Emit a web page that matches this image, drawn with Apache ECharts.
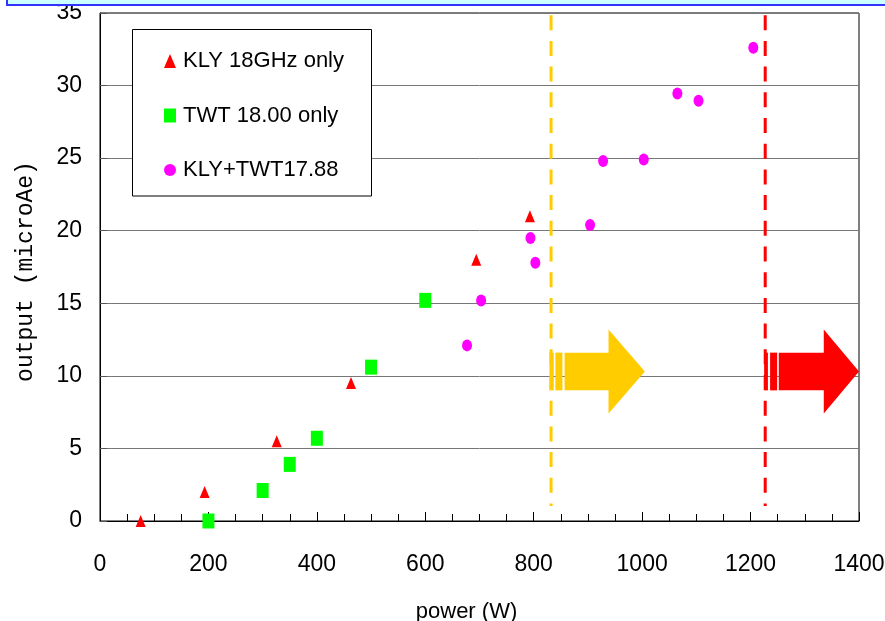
<!DOCTYPE html>
<html>
<head>
<meta charset="utf-8">
<script src="https://cdn.jsdelivr.net/npm/echarts@6/dist/echarts.min.js"></script>
<style>html,body{margin:0;padding:0;background:#fff}#c{width:885px;height:621px}</style>
</head>
<body>
<div id="c"></div>
<script>
// ---- data ----
const klyName = 'KLY 18GHz only';
const twtName = 'TWT 18.00 only';
const mixName = 'KLY+TWT17.88';
const klyPower = [75, 193, 326, 463, 694, 793];
const klyOutput = [0, 2, 5.5, 9.5, 18, 21];
const twtPower = [200, 300, 350, 400, 500, 600];
const twtOutput = [0, 2.1, 3.9, 5.7, 10.6, 15.2];
const mixPower = [677, 703, 794, 803, 904, 928, 1003, 1065, 1104, 1205];
const mixOutput = [12.1, 15.2, 19.5, 17.8, 20.4, 24.8, 24.9, 29.45, 28.95, 32.6];
// threshold lines (power) and their vertical extent (output)
const thresholdPower = [832, 1227];
const thresholdSpan = [1.03, 34.85];
// arrows: stripe edges + body start, head base, tip (power); widths (output)
const arrowStripes = [[829, 837, 840, 853, 857], [1225, 1232, 1236, 1249, 1252]];
const arrowHeadBase = [938, 1335];
const arrowTip = [1005, 1400];
const arrowBody = [9.0, 11.6];
const arrowHead = [7.4, 13.2];
const arrowTipY = 10.3;
const xTicks = [0, 200, 400, 600, 800, 1000, 1200, 1400];
const yTicks = [0, 5, 10, 15, 20, 25, 30, 35];

// ---- styles ----
const sans = "'Liberation Sans', Arial, sans-serif";
const yellow = '#FFCC00', red = '#FF0000';
const arrowColors = [yellow, red];

const chart = echarts.init(document.getElementById('c'), null, {renderer: 'canvas'});
chart.setOption({
  animation: false,
  backgroundColor: '#fff',
  grid: {left: 100, right: 26, top: 13, bottom: 100, outerBoundsMode: 'none', containLabel: false,
    show: true, borderColor: '#000', borderWidth: 1, backgroundColor: '#fff'},
  xAxis: {
    type: 'value', min: xTicks[0], max: xTicks[xTicks.length - 1], interval: 200,
    name: 'power (W)', nameLocation: 'middle', nameGap: 80,
    nameTextStyle: {fontFamily: sans, fontSize: 22, color: '#000', padding: [0, 26, 0, 0]},
    axisLine: {lineStyle: {color: '#000', width: 1}},
    axisTick: {inside: true, length: 9, lineStyle: {color: '#000'}},
    minorTick: {show: true, splitNumber: 4, length: 7, lineStyle: {color: '#000'}},
    splitLine: {show: false},
    axisLabel: {fontFamily: sans, fontSize: 23, color: '#000', margin: 32, formatter: v => String(v)}
  },
  yAxis: {
    type: 'value', min: yTicks[0], max: yTicks[yTicks.length - 1], interval: 5,
    name: 'output (microAe)', nameLocation: 'middle', nameGap: 63,
    nameTextStyle: {fontFamily: "'Liberation Mono', monospace", fontSize: 23, color: '#000', padding: [0, 9, 0, 0]},
    axisLine: {lineStyle: {color: '#000', width: 1}},
    axisTick: {inside: true, length: 7, lineStyle: {color: '#555'}},
    splitLine: {show: true, lineStyle: {color: '#777', width: 1}},
    axisLabel: {fontFamily: sans, fontSize: 23, color: '#000', margin: 18, formatter: v => String(v)}
  },
  legend: {
    data: [klyName, twtName, mixName],
    orient: 'vertical', left: 164, top: 48, padding: 0,
    itemWidth: 12, itemHeight: 14, itemGap: 28.5,
    textStyle: {fontFamily: sans, fontSize: 22, color: '#000', lineHeight: 26, padding: [0, 0, 0, 2]},
    z: 6
  },
  graphic: [
    {type: 'rect', z: 3, shape: {x: 132.5, y: 29.5, width: 239, height: 166.5}, style: {fill: '#fff', stroke: '#000', lineWidth: 1}},
    {type: 'rect', z: 10, shape: {x: 6, y: 0, width: 879, height: 4.5}, style: {fill: '#CCFFFF'}},
    {type: 'rect', z: 10, shape: {x: 6, y: 4, width: 879, height: 2}, style: {fill: '#3333FF'}},
    {type: 'rect', z: 10, shape: {x: 6, y: 0, width: 2, height: 6}, style: {fill: '#3333FF'}}
  ],
  series: [
    {
      name: 'thresholds', type: 'custom', z: 3, silent: true,
      data: thresholdPower.map(p => [p, thresholdSpan[1]]),
      renderItem: function (params, api) {
        const p = api.value(0);
        const a = api.coord([p, thresholdSpan[1]]);
        const b = api.coord([p, thresholdSpan[0]]);
        return {type: 'line', shape: {x1: a[0], y1: a[1], x2: b[0], y2: b[1]},
          style: {stroke: arrowColors[params.dataIndex], lineWidth: 3, lineDash: [15, 10.7]}};
      }
    },
    {
      name: 'arrows', type: 'custom', z: 3, silent: true,
      data: arrowTip.map(t => [t, arrowTipY]),
      renderItem: function (params, api) {
        const i = params.dataIndex;
        const s = arrowStripes[i];
        const col = arrowColors[i];
        const c = (x, y) => api.coord([x, y]);
        const bt = arrowBody[1], bb = arrowBody[0];
        function band(x0, x1) {
          const p0 = c(x0, bt), p1 = c(x1, bb);
          return {type: 'rect', shape: {x: p0[0], y: p0[1], width: p1[0] - p0[0], height: p1[1] - p0[1]}, style: {fill: col}};
        }
        const pts = [c(s[4], bt), c(arrowHeadBase[i], bt), c(arrowHeadBase[i], arrowHead[1]),
          c(arrowTip[i], arrowTipY), c(arrowHeadBase[i], arrowHead[0]), c(arrowHeadBase[i], bb), c(s[4], bb)];
        return {type: 'group', children: [band(s[0], s[1]), band(s[2], s[3]),
          {type: 'polygon', shape: {points: pts}, style: {fill: col}}]};
      }
    },
    {name: klyName, type: 'scatter', z: 4, symbol: 'triangle', symbolSize: [10, 12],
      itemStyle: {color: '#FF0000', opacity: 1}, data: klyPower.map((p, i) => [p, klyOutput[i]])},
    {name: twtName, type: 'scatter', z: 4, symbol: 'rect', symbolSize: [12, 15],
      itemStyle: {color: '#00FF00', opacity: 1}, data: twtPower.map((p, i) => [p, twtOutput[i]])},
    {name: mixName, type: 'scatter', z: 4, symbol: 'circle', symbolSize: [10, 12],
      itemStyle: {color: '#FF00FF', opacity: 1}, data: mixPower.map((p, i) => [p, mixOutput[i]])}
  ]
});
</script>
</body>
</html>
